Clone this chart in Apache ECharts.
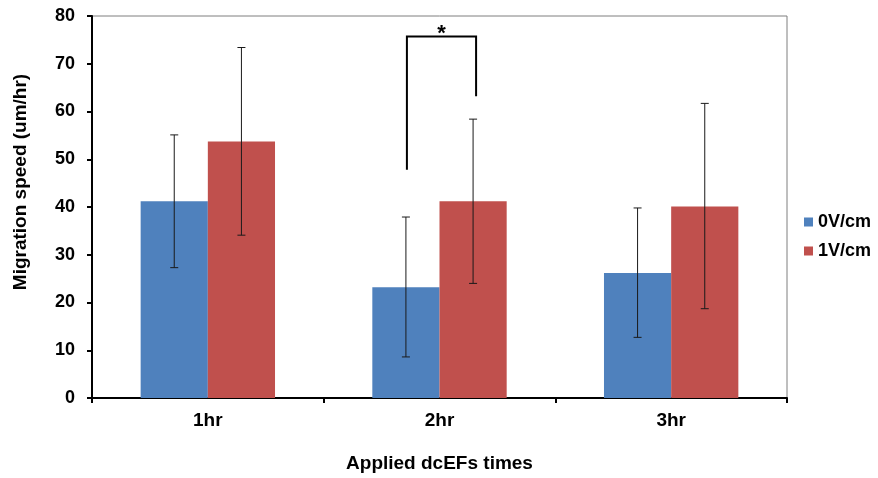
<!DOCTYPE html>
<html>
<head>
  <meta charset="utf-8">
  <script src="https://cdn.jsdelivr.net/npm/echarts@6/dist/echarts.min.js"></script>
  <style>
    body { margin: 0; padding: 0; background: #fff; }
    #chart { width: 878px; height: 478px; }
  </style>
</head>
<body>
  <div id="chart"></div>
  <script>
    // data
    const categories = ['1hr', '2hr', '3hr'];
    const speed0 = [41.2, 23.2, 26.2];
    const speed1 = [53.7, 41.2, 40.1];
    const err0Low = [27.3, 8.6, 12.7];
    const err0High = [55.1, 37.9, 39.8];
    const err1Low = [34.1, 24.0, 18.7];
    const err1High = [73.4, 58.4, 61.7];
    const yTicks = [0, 10, 20, 30, 40, 50, 60, 70, 80];

    // significance bracket between 0V/cm and 1V/cm at 2hr
    const sigCategory = 1;
    const sigTop = 75.7;
    const sigLeftEnd = 47.8;
    const sigRightEnd = 63.2;
    const sigLabel = '*';

    const FONT = 'Liberation Sans, Arial, sans-serif';
    const catGap = 0.42;

    function barOffset(api, side) {
      const band = api.size([1, 0])[0];
      const barW = band * (1 - catGap) / 2;
      return side * barW / 2;
    }

    function errorRender(side) {
      return function (params, api) {
        const dx = barOffset(api, side);
        const lo = api.coord([api.value(0), api.value(1)]);
        const hi = api.coord([api.value(0), api.value(2)]);
        const x = lo[0] + dx;
        const cap = 4;
        const style = { stroke: '#1a1a1a', lineWidth: 1 };
        return {
          type: 'group',
          children: [
            { type: 'line', shape: { x1: x, y1: lo[1], x2: x, y2: hi[1] }, style },
            { type: 'line', shape: { x1: x - cap, y1: lo[1], x2: x + cap, y2: lo[1] }, style },
            { type: 'line', shape: { x1: x - cap, y1: hi[1], x2: x + cap, y2: hi[1] }, style }
          ]
        };
      };
    }

    const chart = echarts.init(document.getElementById('chart'));
    chart.setOption({
      animation: false,
      textStyle: { fontFamily: FONT },
      grid: {
        left: 92, right: 91, top: 16, bottom: 80,
        show: true, borderColor: '#7f7f7f', borderWidth: 1
      },
      legend: {
        data: ['0V/cm', '1V/cm'],
        orient: 'vertical',
        left: 799,
        top: 208,
        itemWidth: 9,
        itemHeight: 9,
        itemGap: 11,
        icon: 'rect',
        textStyle: { fontFamily: FONT, fontSize: 18, fontWeight: 'bold', color: '#000' }
      },
      xAxis: {
        type: 'category',
        data: categories,
        name: 'Applied dcEFs times',
        nameLocation: 'middle',
        nameGap: 56,
        nameTextStyle: { fontFamily: FONT, fontSize: 19, fontWeight: 'bold', color: '#000' },
        axisLine: { lineStyle: { color: '#000', width: 2 } },
        axisTick: { show: true, length: 5, lineStyle: { color: '#000', width: 2 } },
        axisLabel: { fontFamily: FONT, fontSize: 19, fontWeight: 'bold', color: '#000', margin: 13 }
      },
      yAxis: {
        type: 'value',
        min: yTicks[0],
        max: yTicks[yTicks.length - 1],
        interval: yTicks[1] - yTicks[0],
        name: 'Migration speed (um/hr)',
        nameLocation: 'middle',
        nameGap: 62,
        nameTextStyle: {
          fontFamily: FONT, fontSize: 19, fontWeight: 'bold', color: '#000',
          padding: [0, 0, 0, 50]
        },
        axisLine: { show: true, lineStyle: { color: '#000', width: 2 } },
        axisTick: { show: true, length: 5, lineStyle: { color: '#000', width: 2 } },
        axisLabel: { fontFamily: FONT, fontSize: 18, fontWeight: 'bold', color: '#000', margin: 17 },
        splitLine: { show: false }
      },
      series: [
        {
          name: '0V/cm', type: 'bar', data: speed0,
          barGap: 0, barCategoryGap: (catGap * 100) + '%',
          itemStyle: { color: '#4F81BD' }
        },
        {
          name: '1V/cm', type: 'bar', data: speed1,
          itemStyle: { color: '#C0504D' }
        },
        {
          type: 'custom', z: 5,
          data: categories.map((c, i) => [i, err0Low[i], err0High[i]]),
          renderItem: errorRender(-1)
        },
        {
          type: 'custom', z: 5,
          data: categories.map((c, i) => [i, err1Low[i], err1High[i]]),
          renderItem: errorRender(1)
        },
        {
          type: 'custom', z: 6,
          data: [[sigCategory, sigTop, sigLeftEnd, sigRightEnd]],
          renderItem: function (params, api) {
            const dxL = barOffset(api, -1);
            const dxR = barOffset(api, 1);
            const top = api.coord([api.value(0), api.value(1)]);
            const l = api.coord([api.value(0), api.value(2)]);
            const r = api.coord([api.value(0), api.value(3)]);
            const xl = top[0] + dxL + 1, xr = top[0] + dxR + 3;
            return {
              type: 'group',
              children: [
                {
                  type: 'polyline',
                  shape: { points: [[xl, l[1]], [xl, top[1]], [xr, top[1]], [xr, r[1]]] },
                  style: { stroke: '#000', lineWidth: 2, fill: null }
                },
                {
                  type: 'text',
                  style: {
                    text: sigLabel, x: (xl + xr) / 2, y: top[1] + 8,
                    align: 'center', verticalAlign: 'bottom',
                    font: 'bold 22px ' + FONT, fill: '#000'
                  }
                }
              ]
            };
          }
        }
      ]
    });
  </script>
</body>
</html>
